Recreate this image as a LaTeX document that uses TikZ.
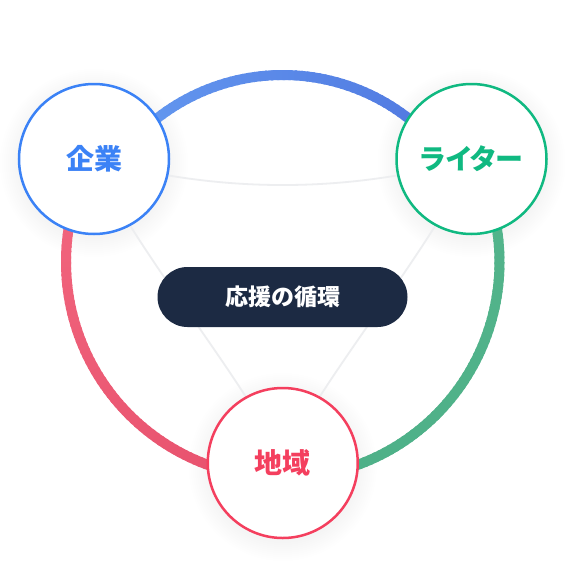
\documentclass[tikz,border=0pt]{standalone}
\usepackage{fontspec}
\newfontfamily\jp{Noto Sans CJK JP}
\definecolor{kblue}{HTML}{3B82F6}
\definecolor{kgreen}{HTML}{10B981}
\definecolor{kred}{HTML}{F43F5E}
\definecolor{navy}{HTML}{1C2A43}
\definecolor{bluea}{HTML}{6499F0}
\definecolor{blueb}{HTML}{5078E0}
\definecolor{reda}{HTML}{F1657D}
\definecolor{redb}{HTML}{E8526E}
\definecolor{greena}{HTML}{53B48B}
\definecolor{greenb}{HTML}{4DB088}
\definecolor{faintgray}{HTML}{EDEEF0}
\newcommand\myGradArc[6]{%
  \foreach \i in {0,...,59} {%
    \pgfmathsetmacro\aa{#3+(#4-#3)*\i/60}%
    \pgfmathsetmacro\bb{#3+(#4-#3)*(\i+1.4)/60}%
    \pgfmathsetmacro\pp{100*\i/59}%
    \draw[ringline, color=#6!\pp!#5] (#1) ++(\aa:#2) arc[start angle=\aa, end angle=\bb, radius=#2];
  }%
}
\begin{document}
\begin{tikzpicture}[x=1pt,y=-1pt,
  ringline/.style={line width=10pt, line cap=butt},
  faint/.style={draw=faintgray, line width=1.8pt},
  circ/.style={circle, minimum size=150pt, inner sep=0pt, line width=2.5pt, fill=white,
    font=\jp\bfseries\fontsize{28}{28}\selectfont},
  pill/.style={rectangle, rounded corners=30pt, minimum width=250pt, minimum height=60pt,
    fill=navy, text=white, inner sep=0pt, font=\jp\bfseries\fontsize{23}{23}\selectfont}]
\useasboundingbox (0,0) rectangle (565,565);
\fill[white] (0,0) rectangle (565,565);

\coordinate (ck) at (94,159);
\coordinate (cr) at (471.5,159);
\coordinate (cc) at (282.75,463);
\coordinate (ob) at (282.75,279);
\coordinate (ol) at (282,262);
\coordinate (or) at (283.5,262);
\coordinate (cm) at (282.5,297);

% soft shadows
\foreach \c in {ck,cr,cc} {
  \foreach \k in {1,...,10} {
    \fill[black, opacity=0.005] ([yshift=-4pt]\c) circle[radius=74+\k*2];
  }
}

% faint inner connectors
\draw[faint] (ck) .. controls (219.8,193.7) and (345.7,193.7) .. (cr);
\draw[faint] (ck) .. controls (130,245) and (250,385) .. (cc);
\draw[faint] (cr) .. controls (435.5,245) and (315.5,385) .. (cc);

% ring arcs with gradients
\myGradArc{ob}{204}{220}{320}{bluea}{blueb}
\myGradArc{ol}{216}{195}{105}{reda}{redb}
\myGradArc{or}{216}{-15}{75}{greena}{greenb}

% centre pill
\node[pill] (cycle) at (cm) {応援の循環};

% circles
\node[circ, draw=kblue, text=kblue] (kigyo) at (ck) {企業};
\node[circ, draw=kgreen, text=kgreen] (writer) at (cr) {\addfontfeature{RawFeature=+palt}ライター};
\node[circ, draw=kred, text=kred] (chiiki) at (cc) {地域};
\end{tikzpicture}
\end{document}
